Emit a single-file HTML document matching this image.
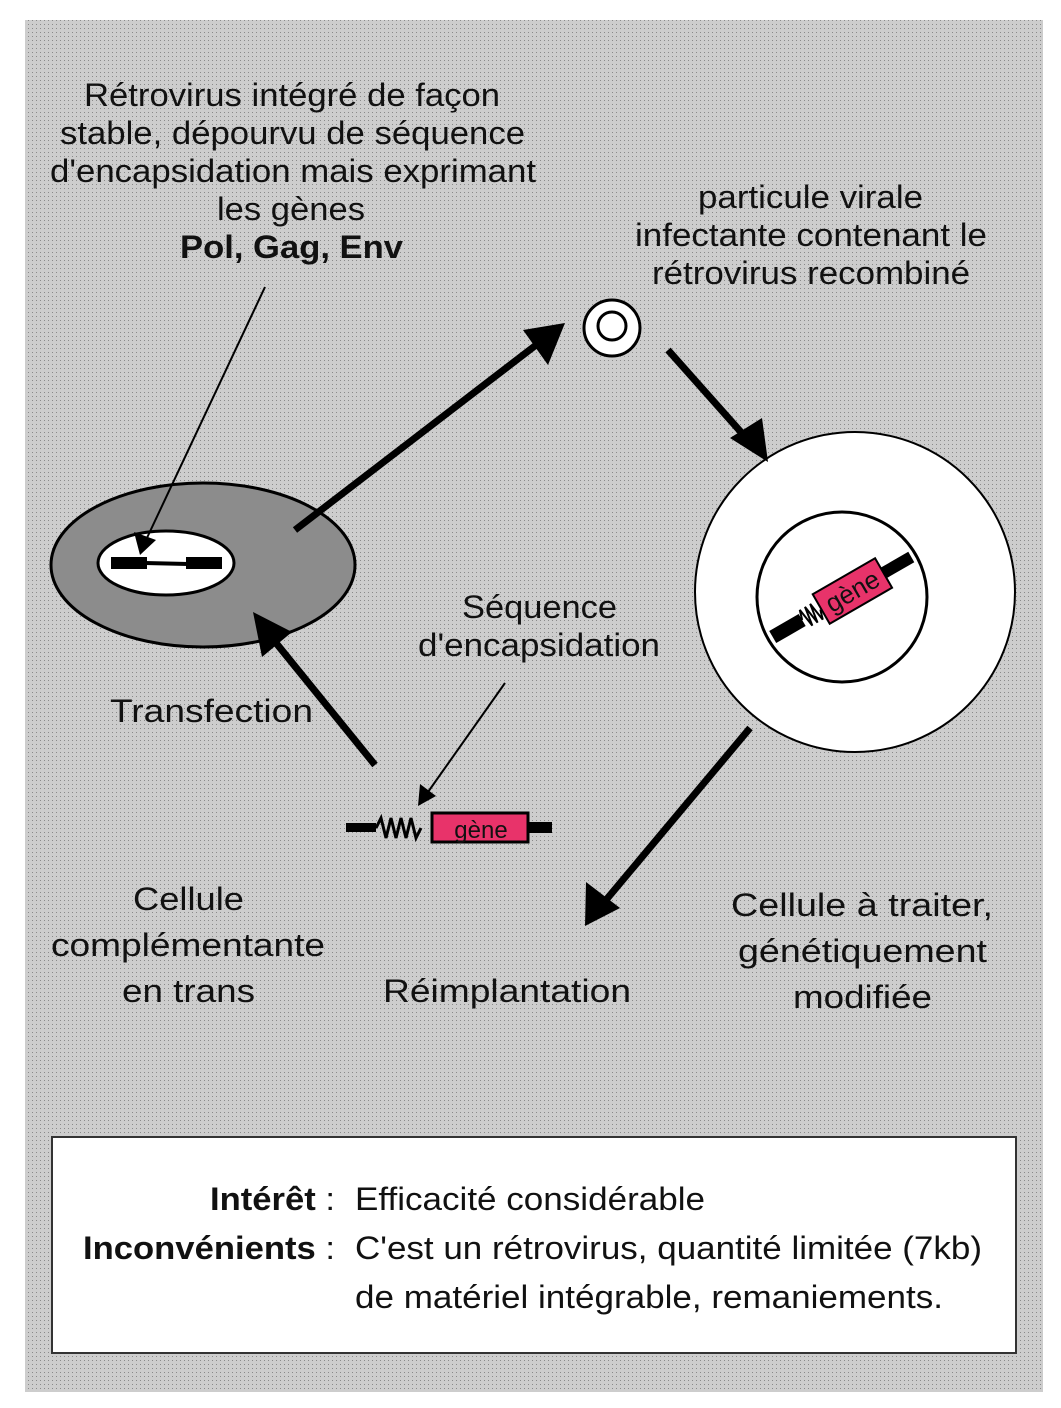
<!DOCTYPE html>
<html><head><meta charset="utf-8"><style>
html,body{margin:0;padding:0;background:#fff;}
svg{display:block}
text{font-family:"Liberation Sans",sans-serif;fill:#111}
</style></head><body>
<svg width="1061" height="1408" viewBox="0 0 1061 1408" xmlns="http://www.w3.org/2000/svg">
<defs>
<pattern id="dots" width="4" height="4" patternUnits="userSpaceOnUse">
<rect width="4" height="4" fill="#cdcdcd"/><rect width="1" height="1" fill="#8a8a8a"/>
</pattern>
</defs>
<rect x="0" y="0" width="1061" height="1408" fill="#fff"/>
<rect x="25" y="20" width="1018" height="1372" fill="url(#dots)"/>

<g font-size="32" lengthAdjust="spacingAndGlyphs">
<text x="84" y="106" textLength="416" lengthAdjust="spacingAndGlyphs">Rétrovirus intégré de façon</text>
<text x="60" y="144" textLength="465" lengthAdjust="spacingAndGlyphs">stable, dépourvu de séquence</text>
<text x="50" y="182" textLength="486" lengthAdjust="spacingAndGlyphs">d'encapsidation mais exprimant</text>
<text x="217" y="220" textLength="148" lengthAdjust="spacingAndGlyphs">les gènes</text>
<text x="180" y="258" textLength="223" lengthAdjust="spacingAndGlyphs" font-weight="bold">Pol, Gag, Env</text>
<text x="698" y="208" textLength="225" lengthAdjust="spacingAndGlyphs">particule virale</text>
<text x="635" y="246" textLength="352" lengthAdjust="spacingAndGlyphs">infectante contenant le</text>
<text x="652" y="284" textLength="318" lengthAdjust="spacingAndGlyphs">rétrovirus recombiné</text>
<text x="462" y="618" textLength="155" lengthAdjust="spacingAndGlyphs">Séquence</text>
<text x="418" y="656" textLength="242" lengthAdjust="spacingAndGlyphs">d'encapsidation</text>
<text x="110" y="722" textLength="203" lengthAdjust="spacingAndGlyphs">Transfection</text>
<text x="133" y="910" textLength="111" lengthAdjust="spacingAndGlyphs">Cellule</text>
<text x="51" y="956" textLength="274" lengthAdjust="spacingAndGlyphs">complémentante</text>
<text x="122" y="1002" textLength="133" lengthAdjust="spacingAndGlyphs">en trans</text>
<text x="383" y="1002" textLength="248" lengthAdjust="spacingAndGlyphs">Réimplantation</text>
<text x="731" y="916" textLength="262" lengthAdjust="spacingAndGlyphs">Cellule à traiter,</text>
<text x="738" y="962" textLength="249" lengthAdjust="spacingAndGlyphs">génétiquement</text>
<text x="793" y="1008" textLength="139" lengthAdjust="spacingAndGlyphs">modifiée</text>
</g>

<!-- left cell -->
<ellipse cx="203" cy="565" rx="152" ry="82" fill="#8c8c8c" stroke="#000" stroke-width="3"/>
<ellipse cx="166" cy="563" rx="68" ry="32" fill="#fff" stroke="#000" stroke-width="3"/>
<rect x="111" y="557" width="36" height="12" fill="#000"/>
<rect x="186" y="557" width="36" height="12" fill="#000"/>
<line x1="145" y1="563" x2="188" y2="564" stroke="#000" stroke-width="4"/>

<!-- particle -->
<circle cx="612" cy="328" r="28" fill="#fff" stroke="#000" stroke-width="3"/>
<circle cx="612" cy="326" r="14" fill="#fff" stroke="#000" stroke-width="3"/>

<!-- right cell -->
<circle cx="855" cy="592" r="160" fill="#fff" stroke="#000" stroke-width="2"/>
<circle cx="842" cy="597" r="85" fill="#fff" stroke="#000" stroke-width="3"/>
<g transform="translate(842,597) rotate(-30)">
<rect x="-80" y="-7" width="34" height="14" fill="#000"/>
<path d="M-46,0 l3,-10 l3,20 l3,-20 l3,20 l3,-20 l3,20 l3,-10" fill="none" stroke="#000" stroke-width="2"/>
<rect x="-24" y="-17" width="72" height="34" fill="#e8336a" stroke="#000" stroke-width="2"/>
<text x="12" y="9" font-size="26" text-anchor="middle">gène</text>
<rect x="48" y="-6" width="32" height="12" fill="#000"/>
</g>

<!-- construct -->
<rect x="346" y="823" width="30" height="9" fill="#000"/>
<path d="M376,828 l5,-10 l5,20 l5,-20 l5,20 l5,-20 l5,20 l5,-20 l5,20 l5,-10" fill="none" stroke="#000" stroke-width="3"/>
<rect x="432" y="813" width="96" height="29" fill="#e8336a" stroke="#000" stroke-width="3"/>
<text x="481" y="838" font-size="24" text-anchor="middle">gène</text>
<rect x="528" y="822" width="24" height="11" fill="#000"/>

<!-- thick arrows -->
<g stroke="#000" stroke-width="7" fill="none">
<line x1="295" y1="530" x2="540" y2="342"/>
<line x1="668" y1="350" x2="748" y2="440"/>
<line x1="750" y1="728" x2="606" y2="900"/>
<line x1="375" y1="765" x2="272" y2="638"/>
</g>
<polygon points="565,323 523,330 548,365" fill="#000"/>
<polygon points="768,462 730,438 762,418" fill="#000"/>
<polygon points="585,926 586,882 620,908" fill="#000"/>
<polygon points="253,612 292,632 262,657" fill="#000"/>

<!-- thin arrows -->
<line x1="265" y1="287" x2="146" y2="540" stroke="#000" stroke-width="2"/>
<polygon points="140,555 134,532 156,540" fill="#000"/>
<line x1="505" y1="683" x2="428" y2="792" stroke="#000" stroke-width="2"/>
<polygon points="418,806 420,784 436,796" fill="#000"/>

<!-- bottom box -->
<rect x="52" y="1137" width="964" height="216" fill="#fff" stroke="#333" stroke-width="2"/>
<g font-size="32">
<text x="210" y="1210" textLength="125" lengthAdjust="spacingAndGlyphs"><tspan font-weight="bold">Intérêt</tspan> :</text>
<text x="355" y="1210" textLength="350" lengthAdjust="spacingAndGlyphs">Efficacité considérable</text>
<text x="83" y="1259" textLength="252" lengthAdjust="spacingAndGlyphs"><tspan font-weight="bold">Inconvénients</tspan> :</text>
<text x="355" y="1259" textLength="627" lengthAdjust="spacingAndGlyphs">C'est un rétrovirus, quantité limitée (7kb)</text>
<text x="355" y="1308" textLength="588" lengthAdjust="spacingAndGlyphs">de matériel intégrable, remaniements.</text>
</g>
</svg>
</body></html>
